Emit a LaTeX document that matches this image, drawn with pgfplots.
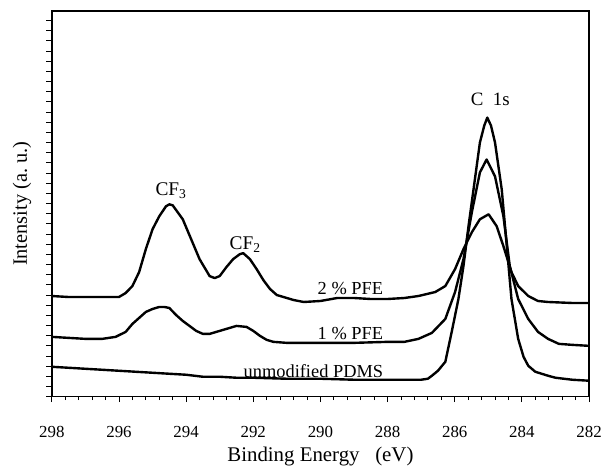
\documentclass[border=0pt]{standalone}
\usepackage{pgfplots}
\pgfplotsset{compat=1.18}
\usepackage{fontspec}
\setmainfont{Liberation Serif}
\begin{document}
\begin{tikzpicture}
\begin{axis}[
 scale only axis, width=539bp, height=387bp,
 x dir=reverse, xmin=282, xmax=298, ymin=0, ymax=387,
 xtick={282,284,...,298}, minor x tick num=4,
 ytick={0,10.2,...,387}, yticklabels={},
 tick align=outside, xtick pos=bottom, ytick pos=left,
 major tick length=5.5bp, minor tick length=3.5bp,
 tick style={line width=0.9bp, black},
 axis line style={line width=1.6bp},
 /pgf/number format/assume math mode=true,
 /pgf/number format/1000 sep={},
 xticklabel style={font=\fontsize{17}{17}\selectfont, anchor=center, yshift=-30bp},
 xlabel={Binding Energy\ \ \ (eV)},
 ylabel={Intensity (a.\ u.)},
 every axis x label/.style={at={([yshift=-60bp]rel axis cs:0.5,0)}, anchor=center, font=\fontsize{21}{21}\selectfont},
 every axis y label/.style={at={([xshift=-30bp]rel axis cs:0,0.5)}, anchor=center, rotate=90, font=\fontsize{20.5}{20.5}\selectfont},
 clip=false,
]
% unmodified PDMS
\addplot[black, line width=2.4bp, line join=round] coordinates {
(298,30) (297.5,29) (297,28) (296.5,27) (296,26) (295.5,25) (295,24) (294.5,23) (294,22) (293.5,20) (293,20) (292.5,19) (292,19) (291,18) (290,18) (289,17) (288,17) (287.5,17) (287,17) (286.8,18) (286.68,21) (286.5,26) (286.28,35) (286.09,65) (285.89,98) (285.74,131) (285.59,171) (285.44,208) (285.25,255) (285.12,272) (285.03,280) (284.92,272) (284.8,255) (284.6,208) (284.46,155) (284.31,98) (284.11,58) (283.95,40) (283.81,31) (283.6,25) (283.22,21) (283,19) (282.5,17) (282,16)
};
% 1 % PFE
\addplot[black, line width=2.4bp, line join=round] coordinates {
(298,60) (297.5,59) (297,58) (296.5,58) (296.1,60) (295.8,65) (295.6,73) (295.4,79) (295.2,85) (295.0,88) (294.8,90) (294.65,90) (294.5,89) (294.3,82) (294.1,76) (293.9,71) (293.7,66) (293.5,63) (293.3,63) (293.1,65) (292.8,68) (292.5,71) (292.2,70) (292.0,66) (291.8,61) (291.6,57) (291.4,55) (291.0,54) (290.6,54) (290,54) (289,54) (288,55) (287.5,55) (287.08,58) (286.68,64) (286.28,78) (285.99,105) (285.74,138) (285.49,185) (285.25,225) (285.05,238) (284.8,221) (284.55,181) (284.36,131) (284.11,98) (283.81,78) (283.52,65) (283.22,58) (282.9,53) (282.5,52) (282,51)
};
% 2 % PFE
\addplot[black, line width=2.4bp, line join=round] coordinates {
(298,101) (297.5,100) (297,100) (296.5,100) (296,100) (295.8,104) (295.6,111) (295.4,125) (295.2,148) (295.0,168) (294.8,181) (294.6,191) (294.5,193) (294.4,192) (294.1,178) (293.9,162) (293.6,138) (293.3,121) (293.15,119) (293.0,121) (292.8,130) (292.6,138) (292.4,143) (292.3,144) (292.1,138) (291.9,128) (291.7,117) (291.5,108) (291.3,102) (291.1,100) (290.8,97) (290.5,95) (290,96) (289.5,99) (289,99) (288.5,98) (288,98) (287.5,99) (287.08,101) (286.58,105) (286.28,111) (285.99,128) (285.74,148) (285.49,165) (285.25,178) (284.99,183) (284.75,171) (284.55,151) (284.31,125) (284.11,111) (283.81,101) (283.52,96) (283.22,95) (282.5,94) (282,94)
};
\node[font=\fontsize{19.5}{19.5}\selectfont] at (axis cs:294.45,207) {CF\textsubscript{3}};
\node[font=\fontsize{19.5}{19.5}\selectfont] at (axis cs:292.24,153) {CF\textsubscript{2}};
\node[font=\fontsize{18.5}{18.5}\selectfont, anchor=east] at (axis cs:288.03,109) {2 \% PFE};
\node[font=\fontsize{18.5}{18.5}\selectfont, anchor=east] at (axis cs:288.03,63) {1 \% PFE};
\node[font=\fontsize{18.5}{18.5}\selectfont, anchor=east] at (axis cs:288.03,26) {unmodified PDMS};
\node[font=\fontsize{19}{19}\selectfont] at (axis cs:284.94,298) {C\ \ 1s};
\path ([shift={(-52bp,-73bp)}]rel axis cs:0,0) rectangle ([shift={(14bp,11bp)}]rel axis cs:1,1);
\end{axis}
\end{tikzpicture}
\end{document}
